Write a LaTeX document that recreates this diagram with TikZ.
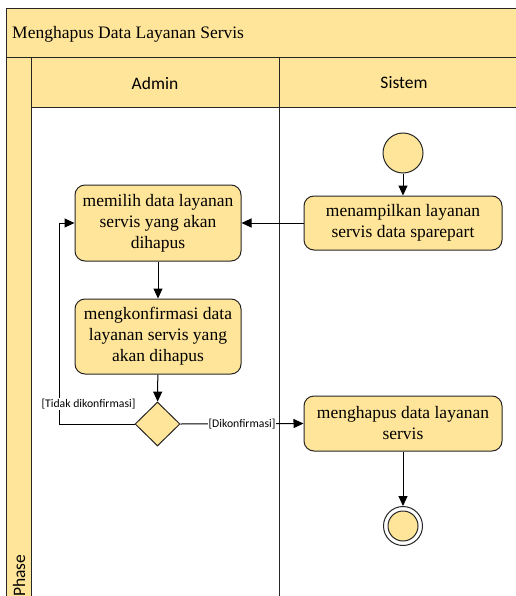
\documentclass[tikz,border=0pt]{standalone}
\usepackage{fontspec}
\setmainfont{Liberation Serif}
\newfontfamily\lanefont{Carlito}
\usetikzlibrary{arrows.meta,shapes.geometric}
\definecolor{actfill}{HTML}{FFE599}
\definecolor{framecol}{HTML}{262626}
\tikzset{
  frameline/.style={draw=framecol, line width=1pt},
  action/.style={draw=framecol, line width=1pt, fill=actfill, rounded corners=10pt,
    minimum width=166pt, align=center, inner sep=0pt,
    font=\fontsize{17.5}{21}\selectfont},
  decision/.style={diamond, draw=framecol, line width=1pt, fill=actfill,
    minimum width=45pt, minimum height=44pt, inner sep=0pt},
  startnode/.style={circle, draw=framecol, line width=1pt, fill=actfill,
    minimum size=40pt, inner sep=0pt},
  flow/.style={draw=black, line width=1pt, -{Triangle[length=10pt,width=9pt]}},
  guard/.style={fill=white, inner sep=1pt, font=\lanefont\fontsize{11.7}{14}\selectfont},
  lanelabel/.style={font=\lanefont\fontsize{17.5}{21}\selectfont}
}
\begin{document}
\begin{tikzpicture}[x=1pt,y=-1pt]
\useasboundingbox (0,0) rectangle (515,596);
% swimlane frame
\fill[white] (0,0) rectangle (515,596);
\filldraw[frameline, fill=actfill] (6,9) rectangle (530,58);
\filldraw[frameline, fill=actfill] (31,58) rectangle (530,108);
\filldraw[frameline, fill=actfill] (6,58) rectangle (31,610);
\draw[frameline] (31,108) -- (31,610);
\draw[frameline] (279,58) -- (279,610);
\node[anchor=west, inner sep=0pt, font=\fontsize{17.5}{21}\selectfont] (title) at (12,34) {Menghapus Data Layanan Servis};
\node[lanelabel] (admin) at (155,83) {Admin};
\node[lanelabel] (sistem) at (404,83) {Sistem};
\node[lanelabel, rotate=90, anchor=west, inner sep=0pt] (phase) at (19,597) {Phase};
% activity nodes
\node[startnode] (start) at (403,153) {};
\node[action, minimum width=198pt, minimum height=54pt] (tampil) at (403,223) {menampilkan layanan\\servis data sparepart};
\node[action, minimum height=76pt] (pilih) at (158,223) {memilih data layanan\\servis yang akan\\dihapus};
\node[action, minimum height=75pt] (konfirm) at (158,336.5) {mengkonfirmasi data\\layanan servis yang\\akan dihapus};
\node[decision] (cek) at (157.5,424) {};
\node[action, minimum width=198pt, minimum height=55pt] (hapus) at (403,423.5) {menghapus data layanan\\servis};
\node[circle, draw=framecol, line width=1pt, fill=white, minimum size=39pt, inner sep=0pt] (finish) at (403,526) {};
\node[circle, draw=framecol, line width=1pt, fill=actfill, minimum size=30pt, inner sep=0pt] (finishin) at (403,526) {};
\coordinate (loopbottom) at (59,424);
\coordinate (looptop) at (59,223);
% control flows
\draw[flow] (start) -- (tampil);
\draw[flow] (tampil) -- (pilih);
\draw[flow] (pilih) -- (konfirm);
\draw[flow] (konfirm) -- (cek);
\draw[flow] (cek.west) -- (loopbottom) -- (looptop) -- (pilih.west);
\draw[flow] (cek.east) -- node[guard] (yes) {[Dikonfirmasi]} (hapus.west);
\draw[flow] (hapus) -- (finish);
\node[guard] (no) at (88.5,404) {[Tidak dikonfirmasi]};
\end{tikzpicture}
\end{document}
